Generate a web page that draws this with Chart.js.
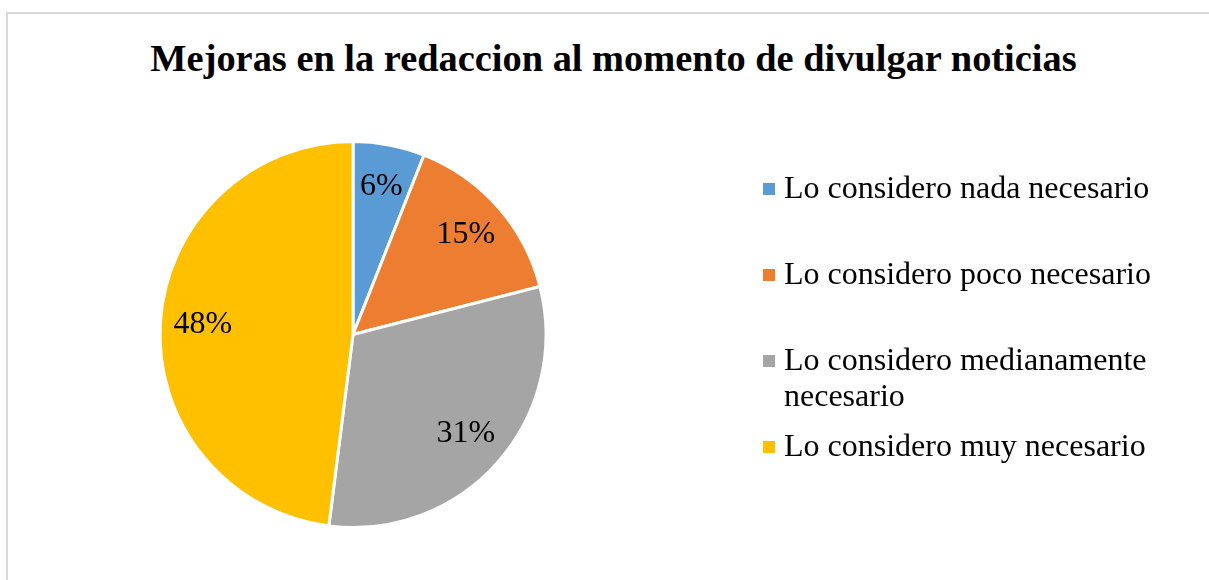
<!DOCTYPE html>
<html>
<head>
<meta charset="utf-8">
<title>Mejoras en la redaccion</title>
<script src="https://cdn.jsdelivr.net/npm/chart.js@4.4.1/dist/chart.umd.min.js"></script>
<style>
  body {
    margin: 0;
    width: 1209px;
    height: 580px;
    overflow: hidden;
    background: #fff;
    font-family: "Liberation Serif", "Times New Roman", serif;
    position: relative;
  }
  #frame {
    position: absolute;
    left: 6px;
    top: 12px;
    width: 1300px;
    height: 700px;
    border: 2px solid #d9d9d9;
    box-sizing: border-box;
  }
  #chartBox {
    position: absolute;
    left: 0;
    top: 0;
    width: 1209px;
    height: 580px;
  }
  #title {
    position: absolute;
    left: 0;
    top: 36px;
    width: 1227px;
    text-align: center;
    font-weight: bold;
    font-size: 38.4px;
    line-height: 44px;
    color: #000;
    white-space: nowrap;
  }
  #legend {
    position: absolute;
    left: 763px;
    top: 170px;
  }
  .item {
    display: flex;
    align-items: flex-start;
    height: 86px;
  }
  .box {
    width: 12px;
    height: 12px;
    margin-top: 13px;
    margin-right: 9px;
    flex: none;
  }
  .txt {
    width: 372px;
    font-size: 32px;
    line-height: 35.5px;
    color: #000;
  }
</style>
</head>
<body>
<div id="frame"></div>
<div id="title">Mejoras en la redaccion al momento de divulgar noticias</div>
<div id="chartBox"><canvas id="pieChart" width="1209" height="580"></canvas></div>
<div id="legend"></div>

<script>
// Datos (porcentajes)
const categories = [
  'Lo considero nada necesario',
  'Lo considero poco necesario',
  'Lo considero medianamente necesario',
  'Lo considero muy necesario'
];
const values = [6, 15, 31, 48];
const colors = ['#5B9BD5', '#ED7D31', '#A5A5A5', '#FFC000'];

// Leyenda a la derecha (HTML)
const legendEl = document.getElementById('legend');
legendEl.innerHTML = categories.map((c, i) =>
  '<div class="item"><div class="box" style="background:' + colors[i] + '"></div>' +
  '<div class="txt">' + c + '</div></div>'
).join('');

// Etiquetas de porcentaje dentro de cada sector
const pieLabels = {
  id: 'pieLabels',
  afterDatasetsDraw(chart) {
    const ctx = chart.ctx;
    const meta = chart.getDatasetMeta(0);
    const total = values.reduce((s, v) => s + v, 0);
    ctx.save();
    ctx.font = '32px "Liberation Serif", "Times New Roman", serif';
    ctx.fillStyle = '#000';
    ctx.textAlign = 'center';
    ctx.textBaseline = 'middle';
    meta.data.forEach((arc, i) => {
      const p = arc.getProps(['x', 'y', 'startAngle', 'endAngle', 'outerRadius'], true);
      const mid = (p.startAngle + p.endAngle) / 2;
      const r = p.outerRadius * 0.78;
      const pct = Math.round(values[i] / total * 100) + '%';
      ctx.fillText(pct, p.x + Math.cos(mid) * r, p.y + Math.sin(mid) * r);
    });
    ctx.restore();
  }
};

const ctx = document.getElementById('pieChart').getContext('2d');
new Chart(ctx, {
  type: 'pie',
  data: {
    labels: categories,
    datasets: [{
      data: values,
      backgroundColor: colors,
      borderColor: '#ffffff',
      borderWidth: 3,
      radius: 193
    }]
  },
  options: {
    responsive: false,
    devicePixelRatio: 1,
    animation: false,
    layout: {
      padding: { left: 100, right: 603, top: 100, bottom: 11 }
    },
    plugins: {
      legend: { display: false },
      title: { display: false },
      tooltip: { enabled: false }
    }
  },
  plugins: [pieLabels]
});
</script>
</body>
</html>
